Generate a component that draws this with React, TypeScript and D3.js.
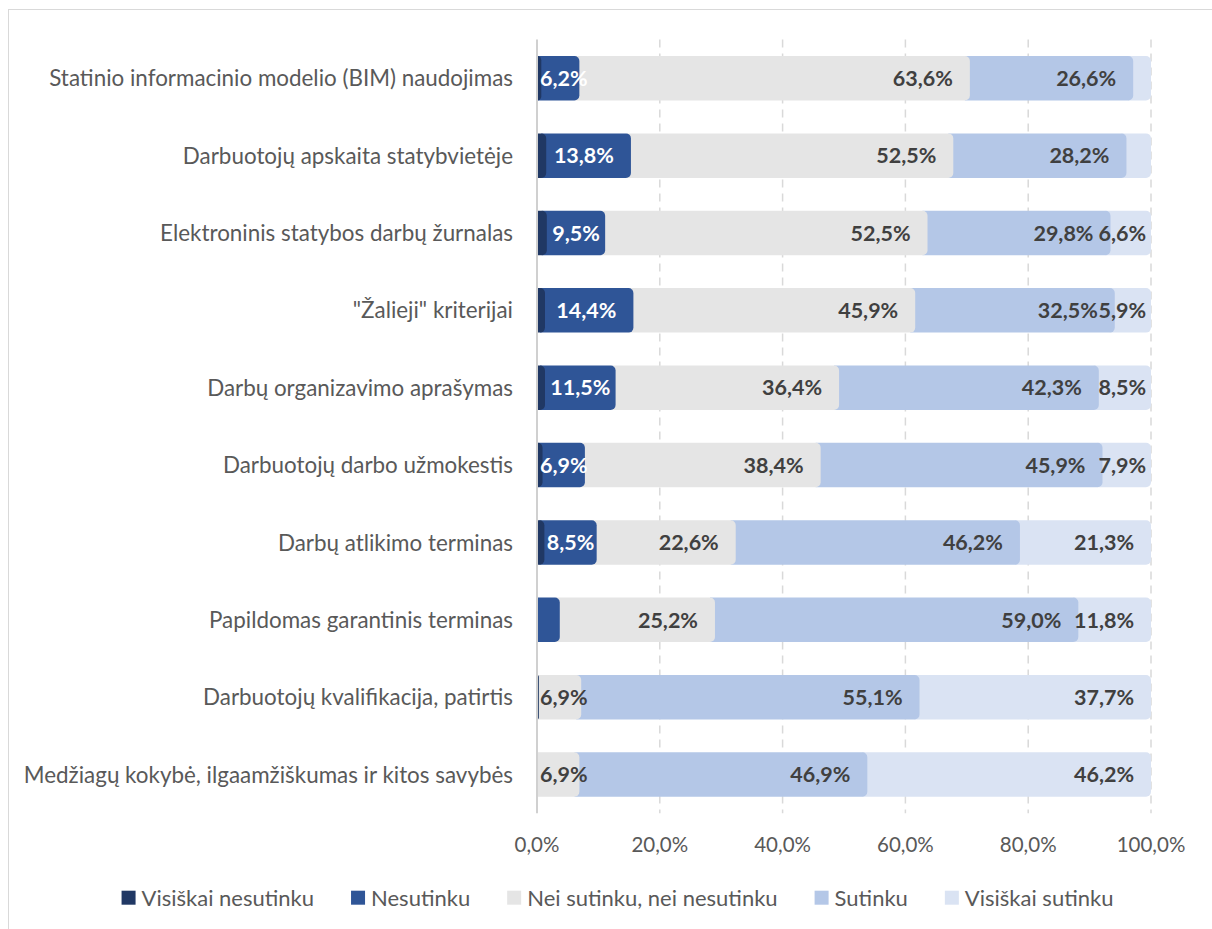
import React from "react";
import * as d3 from "d3";

const categories = [
  "Statinio informacinio modelio (BIM) naudojimas",
  "Darbuotojų apskaita statybvietėje",
  "Elektroninis statybos darbų žurnalas",
  "\"Žalieji\" kriterijai",
  "Darbų organizavimo aprašymas",
  "Darbuotojų darbo užmokestis",
  "Darbų atlikimo terminas",
  "Papildomas garantinis terminas",
  "Darbuotojų kvalifikacija, patirtis",
  "Medžiagų kokybė, ilgaamžiškumas ir kitos savybės",
];

const seriesNames = [
  "Visiškai nesutinku",
  "Nesutinku",
  "Nei sutinku, nei nesutinku",
  "Sutinku",
  "Visiškai sutinku",
];

const visiskaiNesutinku = [0.7, 1.5, 1.6, 1.3, 1.3, 0.9, 1.2, 0, 0.3, 0];
const nesutinku = [6.2, 13.8, 9.5, 14.4, 11.5, 6.9, 8.5, 3.7, 0, 0];
const neiSutinkuNeiNesutinku = [63.6, 52.5, 52.5, 45.9, 36.4, 38.4, 22.6, 25.2, 6.9, 6.9];
const sutinku = [26.6, 28.2, 29.8, 32.5, 42.3, 45.9, 46.2, 59.0, 55.1, 46.9];
const visiskaiSutinku = [2.9, 4.0, 6.6, 5.9, 8.5, 7.9, 21.3, 11.8, 37.7, 46.2];

const seriesValues = [visiskaiNesutinku, nesutinku, neiSutinkuNeiNesutinku, sutinku, visiskaiSutinku];

// series without data labels, and single hidden labels [category, series]
const unlabeledSeries = ["Visiškai nesutinku"];
const hiddenLabels = [
  ["Papildomas garantinis terminas", "Nesutinku"],
  ["Statinio informacinio modelio (BIM) naudojimas", "Visiškai sutinku"],
  ["Darbuotojų apskaita statybvietėje", "Visiškai sutinku"],
];

const tickValues = [0, 0.2, 0.4, 0.6, 0.8, 1.0];

const colors = ["#203864", "#2F5597", "#E5E5E5", "#B4C7E7", "#DAE3F3"];
const labelColors = ["#FFFFFF", "#FFFFFF", "#404040", "#404040", "#404040"];

const FONT = "Lato, 'Open Sans', sans-serif";
const CAT_SIZE = 22.4;
const LABEL_SIZE = 21.5;
const TICK_SIZE = 20.5;
const LEGEND_SIZE = 22;

let _ctx: CanvasRenderingContext2D | null = null;
function measure(text: string, font: string): number {
  if (!_ctx) {
    const c = document.createElement("canvas");
    _ctx = c.getContext("2d");
  }
  if (!_ctx) return text.length * 10;
  _ctx.font = font;
  return _ctx.measureText(text).width;
}

function fmt(v: number): string {
  return v.toFixed(1).replace(".", ",") + "%";
}

function segPath(a: number, b: number, t: number, h: number, r: number): string {
  const rr = Math.max(0, Math.min(r, (b - a), h / 2));
  return `M${a},${t}H${b - rr}A${rr},${rr} 0 0 1 ${b},${t + rr}V${t + h - rr}A${rr},${rr} 0 0 1 ${b - rr},${t + h}H${a}Z`;
}

export default function App() {
  const W = 1212;
  const H = 929;
  const left = 537;
  const right = 1151;
  const top = 39.6;
  const bottom = 813.2;

  const rows = categories.map((c, i) => {
    const o: any = { category: c };
    seriesNames.forEach((s, j) => (o[s] = seriesValues[j][i]));
    return o;
  });

  const stacked = d3.stack<any>().keys(seriesNames).offset(d3.stackOffsetExpand)(rows);

  const x = d3.scaleLinear().domain([0, 1]).range([left, right]);
  const y = d3
    .scaleBand<string>()
    .domain(categories)
    .range([top, bottom])
    .paddingInner(0.425)
    .paddingOuter(0.2125);
  const bw = y.bandwidth();
  const R = 5;

  const labelFont = `bold ${LABEL_SIZE}px ${FONT}`;

  // segments drawn in reverse order so each rounded end overlaps the next
  const segs: JSX.Element[] = [];
  for (let j = stacked.length - 1; j >= 0; j--) {
    const s = stacked[j];
    s.forEach((d, i) => {
      const v = seriesValues[j][i];
      if (!v) return;
      const x0 = x(d[0]);
      const x1 = x(d[1]);
      const a = Math.max(x(0), x0 - R);
      const t = y(categories[i])!;
      segs.push(
        <path key={`s${j}-${i}`} d={segPath(j === 0 ? x0 : a, x1, t, bw, R)} fill={colors[j]} />
      );
    });
  }

  const labels: JSX.Element[] = [];
  stacked.forEach((s, j) => {
    if (unlabeledSeries.includes(seriesNames[j])) return;
    s.forEach((d, i) => {
      const v = seriesValues[j][i];
      if (!v) return;
      if (hiddenLabels.some(([c, n]) => c === categories[i] && n === seriesNames[j])) return;
      const text = fmt(v);
      const w = measure(text, labelFont);
      const x0 = x(d[0]);
      const x1 = x(d[1]);
      let r: number;
      if (w + 12 <= x1 - x0) r = x1 - 17;
      else r = (x0 + x1) / 2 + w / 2;
      let l = r - w;
      if (l < left + 3) {
        l = left + 3;
        r = l + w;
      }
      if (r > right - 5) {
        r = right - 5;
        l = r - w;
      }
      labels.push(
        <text
          key={`l${j}-${i}`}
          x={l}
          y={y(categories[i])! + bw / 2}
          dy="0.36em"
          fill={labelColors[j]}
          fontFamily={FONT}
          fontWeight="bold"
          fontSize={LABEL_SIZE}
        >
          {text}
        </text>
      );
    });
  });

  // legend layout
  const legendFont = `${LEGEND_SIZE}px ${FONT}`;
  const sw = 14;
  const swGap = 6;
  const itemGap = 37;
  const widths = seriesNames.map((n) => measure(n, legendFont));
  const total = widths.reduce((a, b) => a + sw + swGap + b, 0) + itemGap * (seriesNames.length - 1);
  let cx = 617.5 - total / 2;
  const legendY = 897.7;
  const legendItems = seriesNames.map((n, k) => {
    const gx = cx;
    cx += sw + swGap + widths[k] + itemGap;
    return (
      <g key={`lg${k}`}>
        <rect x={gx} y={legendY - sw / 2} width={sw} height={sw} fill={colors[k]} />
        <text
          x={gx + sw + swGap}
          y={legendY}
          dy="0.36em"
          fill="#595959"
          fontFamily={FONT}
          fontSize={LEGEND_SIZE}
        >
          {n}
        </text>
      </g>
    );
  });

  return (
    <div style={{ position: "absolute", left: 0, top: 0, width: W, height: H, background: "#fff" }}>
      <svg width={W} height={H} style={{ display: "block" }}>
        <rect x={0} y={0} width={W} height={H} fill="#fff" />
        <rect x={8.5} y={9.5} width={1230} height={960} fill="#fff" stroke="#D9D9D9" strokeWidth={1} />
        {tickValues.slice(1).map((t) => (
          <line
            key={`g${t}`}
            x1={x(t)}
            x2={x(t)}
            y1={top}
            y2={bottom}
            stroke="#D9D9D9"
            strokeWidth={1.5}
            strokeDasharray="8,6"
          />
        ))}
        {segs}
        <line x1={left} x2={left} y1={top} y2={bottom} stroke="#D0D0D0" strokeWidth={2} />
        {labels}
        {categories.map((c) => (
          <text
            key={`c${c}`}
            x={513}
            y={y(c)! + bw / 2}
            dy="0.36em"
            textAnchor="end"
            fill="#595959"
            fontFamily={FONT}
            fontSize={CAT_SIZE}
          >
            {c}
          </text>
        ))}
        {tickValues.map((t) => (
          <text
            key={`t${t}`}
            x={x(t)}
            y={845}
            dy="0.36em"
            textAnchor="middle"
            fill="#595959"
            fontFamily={FONT}
            fontSize={TICK_SIZE}
          >
            {fmt(t * 100)}
          </text>
        ))}
        {legendItems}
      </svg>
    </div>
  );
}
